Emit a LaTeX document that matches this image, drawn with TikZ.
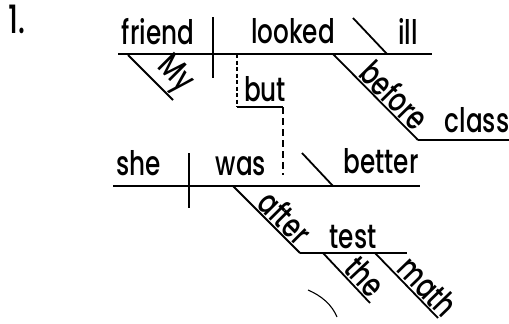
\documentclass[tikz,border=0pt]{standalone}
\usepackage{fontspec}
\setmainfont{Poppins Medium}
\usepackage{graphicx}
\newcommand{\dg}[1]{\scalebox{0.95}[1.3]{#1}}
\begin{document}
\begin{tikzpicture}[x=1pt,y=-1pt,
  word/.style={font=\fontsize{26}{28}\selectfont, inner sep=0pt, anchor=base},
  slword/.style={font=\fontsize{26}{28}\selectfont, inner sep=1pt, sloped, above},
  baseline line/.style={line width=2.5pt},
  slant/.style={line width=1.8pt},
  divider/.style={line width=1.8pt},
  finedash/.style={line width=1.8pt, dash pattern=on 4pt off 2.5pt},
  coarsedash/.style={line width=2pt, dash pattern=on 7pt off 4pt}]
\useasboundingbox (0,0) rectangle (509,324);
% coordinates
\coordinate (L1s) at (118,54); \coordinate (L1e) at (432,54);
\coordinate (d1t) at (213,17); \coordinate (d1b) at (213,78);
\coordinate (my1) at (128,55); \coordinate (my2) at (173,100);
\coordinate (il1) at (353,18); \coordinate (il2) at (387,54);
\coordinate (bf1) at (333,54); \coordinate (bf2) at (418,140); \coordinate (cl2) at (509,140);
\coordinate (bu1) at (237,54); \coordinate (bu2) at (237,107);
\coordinate (bu3) at (283,107); \coordinate (bu4) at (283,175);
\coordinate (L2s) at (113,186); \coordinate (L2e) at (420,186);
\coordinate (d2t) at (189,153); \coordinate (d2b) at (189,208);
\coordinate (bt1) at (302,153); \coordinate (bt2) at (333,186);
\coordinate (af1) at (233,186); \coordinate (af2) at (300,253); \coordinate (ts2) at (407,253);
\coordinate (th1) at (323,253); \coordinate (th2) at (370,303);
\coordinate (ma1) at (375,253); \coordinate (ma2) at (438,318);
\coordinate (sa1) at (308,290); \coordinate (sa2) at (337,317);
% number
\node[word, anchor=base west, font=\fontsize{30}{32}\selectfont] (num) at (8,34) {\dg{1.}};
% first clause
\draw[baseline line] (L1s) -- (L1e);
\draw[divider] (d1t) -- (d1b);
\draw[slant] (il1) -- (il2);
\node[word] (friend) at (158,44) {\dg{friend}};
\node[word] (looked) at (293,43) {\dg{looked}};
\node[word] (ill) at (408,44) {\dg{ill}};
\draw[slant] (my1) -- node[slword, pos=0.74] (my) {\dg{My}} (my2);
\draw[slant] (bf1) -- node[slword, pos=0.6] (before) {\dg{before}} (bf2);
\draw[baseline line] (bf2) -- (cl2);
\node[word] (class) at (477,132) {\dg{class}};
% conjunction
\draw[finedash] (bu1) -- (bu2);
\draw[line width=2pt] (bu2) -- (bu3);
\draw[coarsedash] (bu3) -- (bu4);
\node[word] (but) at (265,101) {\dg{but}};
% second clause
\draw[baseline line] (L2s) -- (L2e);
\draw[divider] (d2t) -- (d2b);
\draw[slant] (bt1) -- (bt2);
\node[word] (she) at (139,175) {\dg{she}};
\node[word] (was) at (241,175) {\dg{was}};
\node[word] (better) at (381,173) {\dg{better}};
\draw[slant] (af1) -- node[slword, pos=0.62] (after) {\dg{after}} (af2);
\draw[line width=2pt] (af2) -- (ts2);
\node[word] (test) at (353,248) {\dg{test}};
\draw[slant] (th1) -- node[slword, pos=0.67] (the) {\dg{the}} (th2);
\draw[slant] (ma1) -- node[slword, pos=0.67] (math) {\dg{math}} (ma2);
% stray mark
\draw[line width=1.1pt] (sa1) .. controls (322,296) and (332,305) .. (sa2);
\end{tikzpicture}
\end{document}
